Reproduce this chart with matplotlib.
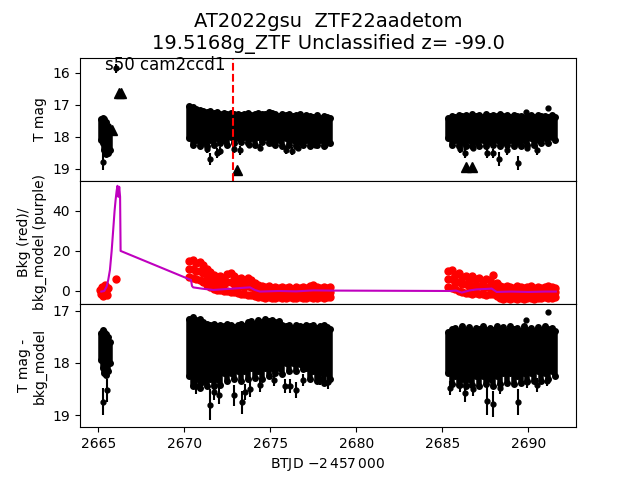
import numpy as np
import matplotlib
matplotlib.use('Agg')
import matplotlib.pyplot as plt

# --- light curve, sector 50 ---
t_early = [2665.16, 2665.26, 2665.36, 2665.46, 2665.56, 2665.66]
mag_early_hi = [17.45, 17.4, 17.45, 17.55, 17.65, 17.75]
mag_early_lo = [18.1, 18.2, 18.4, 18.55, 18.5, 18.4]
sub_early_hi = [17.42, 17.37, 17.4, 17.45, 17.5, 17.6]
sub_early_lo = [17.95, 18.1, 18.2, 18.23, 18.15, 18.0]

t_seg1 = [2670.3, 2670.5, 2670.7, 2670.9, 2671.1, 2671.3, 2671.5, 2671.7, 2671.9, 2672.1,
          2672.3, 2672.5, 2672.7, 2672.9, 2673.1, 2673.3, 2673.5, 2673.7, 2673.9, 2674.1,
          2674.3, 2674.5, 2674.7, 2674.9, 2675.1, 2675.3, 2675.5, 2675.7, 2675.9, 2676.1,
          2676.3, 2676.5, 2676.7, 2676.9, 2677.1, 2677.3, 2677.5, 2677.7, 2677.9, 2678.1,
          2678.3, 2678.5]
mag1_hi = [17.05, 17.08, 17.12, 17.15, 17.2, 17.22, 17.2, 17.25, 17.22, 17.28,
           17.25, 17.3, 17.27, 17.3, 17.28, 17.32, 17.3, 17.27, 17.33, 17.3,
           17.25, 17.28, 17.3, 17.22, 17.27, 17.3, 17.35, 17.3, 17.33, 17.3,
           17.35, 17.32, 17.3, 17.38, 17.33, 17.35, 17.38, 17.33, 17.4, 17.35,
           17.38, 17.4]
mag1_lo = [18.05, 18.25, 18.1, 18.3, 18.15, 18.3, 18.1, 18.25, 18.05, 18.2,
           18.1, 18.25, 18.0, 18.2, 18.05, 18.15, 18.0, 18.2, 18.05, 18.25,
           18.0, 18.15, 18.0, 18.2, 18.05, 18.25, 18.1, 18.3, 18.05, 18.25,
           18.1, 18.3, 18.15, 18.25, 18.1, 18.3, 18.15, 18.25, 18.1, 18.3,
           18.15, 18.2]
sub1_hi = [17.15, 17.12, 17.18, 17.15, 17.22, 17.25, 17.28, 17.25, 17.3, 17.27,
           17.3, 17.25, 17.28, 17.32, 17.27, 17.25, 17.3, 17.22, 17.2, 17.25,
           17.18, 17.22, 17.15, 17.2, 17.17, 17.22, 17.2, 17.27, 17.3, 17.28,
           17.33, 17.27, 17.3, 17.32, 17.28, 17.3, 17.27, 17.33, 17.3, 17.28,
           17.32, 17.35]
sub1_lo = [18.25, 18.45, 18.3, 18.48, 18.35, 18.45, 18.3, 18.45, 18.3, 18.42,
           18.2, 18.35, 18.2, 18.3, 18.15, 18.35, 18.15, 18.3, 18.1, 18.28,
           18.15, 18.3, 18.1, 18.25, 18.1, 18.2, 18.1, 18.22, 18.0, 18.15,
           18.0, 18.15, 18.02, 18.12, 18.1, 18.3, 18.15, 18.35, 18.2, 18.38,
           18.2, 18.3]

t_seg2 = [2685.35, 2685.55, 2685.75, 2685.95, 2686.15, 2686.35, 2686.55, 2686.75, 2686.95, 2687.15,
          2687.35, 2687.55, 2687.75, 2687.95, 2688.15, 2688.35, 2688.55, 2688.75, 2688.95, 2689.15,
          2689.35, 2689.55, 2689.75, 2689.95, 2690.15, 2690.35, 2690.55, 2690.75, 2690.95, 2691.15,
          2691.35, 2691.55]
mag2_hi = [17.4, 17.35, 17.38, 17.32, 17.36, 17.33, 17.38, 17.3, 17.35, 17.32,
           17.37, 17.3, 17.34, 17.31, 17.36, 17.3, 17.35, 17.33, 17.38, 17.32,
           17.36, 17.34, 17.4, 17.35, 17.33, 17.38, 17.32, 17.36, 17.34, 17.38,
           17.33, 17.37]
mag2_lo = [18.05, 18.25, 18.1, 18.3, 18.15, 18.3, 18.1, 18.28, 18.15, 18.3,
           18.1, 18.3, 18.15, 18.25, 18.1, 18.3, 18.15, 18.25, 18.1, 18.28,
           18.15, 18.3, 18.1, 18.25, 18.05, 18.25, 18.1, 18.2, 18.05, 18.2,
           18.0, 18.1]
sub2_hi = [17.4, 17.35, 17.33, 17.38, 17.3, 17.36, 17.32, 17.38, 17.33, 17.35,
           17.3, 17.37, 17.33, 17.36, 17.3, 17.35, 17.32, 17.38, 17.3, 17.35,
           17.33, 17.38, 17.3, 17.36, 17.33, 17.38, 17.32, 17.36, 17.3, 17.35,
           17.33, 17.38]
sub2_lo = [18.2, 18.4, 18.25, 18.42, 18.3, 18.45, 18.3, 18.42, 18.25, 18.45,
           18.25, 18.4, 18.3, 18.45, 18.25, 18.4, 18.2, 18.38, 18.2, 18.4,
           18.25, 18.38, 18.2, 18.35, 18.2, 18.35, 18.15, 18.35, 18.2, 18.3,
           18.15, 18.25]

# faint single points with larger error bars
t_out_top = [2665.27, 2666.03, 2671.33, 2671.52, 2671.91, 2672.1, 2672.87, 2673.26, 2673.74,
             2674.41, 2675.08, 2675.89, 2676.24, 2676.62, 2677.59, 2678.16,
             2686.03, 2686.32, 2686.8, 2687.58, 2687.97, 2688.31, 2688.74, 2689.42,
             2689.91, 2690.49, 2689.87, 2691.15]
mag_out_top = [18.78, 15.87, 18.38, 18.7, 18.5, 18.45, 18.38, 18.42, 18.25,
               18.34, 18.2, 18.42, 18.44, 18.34, 18.25, 18.25,
               18.38, 18.5, 18.35, 18.5, 18.52, 18.7, 18.42, 18.82,
               18.34, 18.42, 17.22, 17.1]
err_out_top = [0.27, 0.13, 0.12, 0.18, 0.15, 0.12, 0.12, 0.14, 0.1,
               0.12, 0.1, 0.12, 0.12, 0.12, 0.1, 0.1,
               0.12, 0.16, 0.11, 0.16, 0.14, 0.22, 0.14, 0.22,
               0.12, 0.14, 0.05, 0.05]

t_out_sub = [2665.26, 2665.52, 2670.66, 2670.95, 2671.52, 2671.7, 2672.0, 2672.87, 2673.35,
             2673.55, 2673.83, 2674.41, 2675.2, 2675.85, 2676.14, 2676.52, 2676.9, 2677.88,
             2678.36, 2685.45, 2686.03, 2686.32, 2686.8, 2687.58, 2687.97, 2688.35, 2689.42,
             2689.91, 2690.49, 2691.07, 2689.87, 2691.15]
mag_out_sub = [18.74, 18.52, 18.45, 18.38, 18.8, 18.55, 18.62, 18.62, 18.75,
               18.55, 18.5, 18.42, 18.33, 18.44, 18.44, 18.52, 18.33, 18.3,
               18.36, 18.48, 18.42, 18.58, 18.5, 18.72, 18.78, 18.47, 18.75,
               18.36, 18.42, 18.34, 17.17, 17.03]
err_out_sub = [0.26, 0.22, 0.15, 0.12, 0.3, 0.15, 0.16, 0.2, 0.22,
               0.15, 0.15, 0.13, 0.12, 0.14, 0.14, 0.16, 0.12, 0.12,
               0.13, 0.14, 0.13, 0.16, 0.14, 0.28, 0.25, 0.13, 0.25,
               0.12, 0.13, 0.11, 0.04, 0.04]

# ZTF upper limits
t_lim = [2665.8, 2666.22, 2666.3, 2673.05, 2686.38, 2686.73]
mag_lim = [17.78, 16.63, 16.63, 19.03, 18.94, 18.94]

# background flux and model
t_bkg_early = [2665.12, 2665.18, 2665.22, 2665.28, 2665.32, 2665.38, 2665.42, 2665.48,
               2665.52, 2665.56, 2666.03]
bkg_early = [0.5, -1.5, 2, -2.5, 1, 3, -1, 0, -2, 1.5, 6]
bkg1_hi = [15, 15.5, 14, 14.5, 13, 11, 9.5, 8, 7, 7.5,
           6.5, 8.5, 9, 7.5, 6, 6.5, 5, 6.5, 5.5, 4,
           3, 2.5, 2, 2.5, 1.5, 2, 1.5, 2, 1.5, 2,
           1, 2, 1.5, 2, 1.5, 2.5, 3, 2, 1.5, 2,
           1.5, 2]
bkg1_lo = [7, 6.5, 6, 5.5, 4.5, 3, 2, 1, 0.5, 0.5,
           0, 0, -0.5, -0.5, -1, -1.5, -1.5, -2, -2, -2.5,
           -3, -3, -3.5, -3, -3.5, -3.5, -3, -3.5, -3.5, -3,
           -3.5, -3.5, -3, -3.5, -3.5, -3, -3.5, -3.5, -3, -3.5,
           -3, -3]
bkg2_hi = [10, 10.5, 8, 9, 7, 7.5, 6, 7.5, 6, 6.5,
           5, 6, 5.5, 8, 4, 2.5, 2, 2.5, 2, 1.5,
           2.5, 2, 1.5, 2, 2.5, 1.5, 2, 1.5, 2, 2.5,
           2, 1.5]
bkg2_lo = [2, 1.5, 1, 0, -0.5, -1, -1, -1.5, -1, -1.5,
           -1.5, -2, -1.5, -1.5, -2.5, -3.5, -4, -3.5, -4, -3.5,
           -4, -3.5, -4, -3.5, -3.5, -4, -3.5, -3.5, -3, -3.5,
           -3.5, -3]

t_model = [2665.18, 2665.35, 2665.49, 2665.58, 2665.68, 2665.78, 2665.87, 2665.95, 2666.01,
           2666.07, 2666.12, 2666.17, 2666.22, 2666.27, 2666.3, 2670.39, 2670.45, 2670.52,
           2671.0, 2671.69, 2672.5, 2673.3, 2673.82, 2674.1, 2674.4, 2675.5, 2676.5, 2677.5,
           2678.47, 2685.45, 2685.8, 2686.13, 2686.6, 2687.0, 2687.5, 2687.87, 2688.16,
           2689.0, 2690.0, 2691.0, 2691.6]
bkg_model = [-0.3, 0.0, 2.2, 5.5, 10.5, 20, 30.5, 40, 45.5,
             50, 52.5, 47, 52, 47, 20, 5.5, 2.5, 1.8,
             1.2, 0.5, 1.0, 1.5, 1.8, 0.5, -0.3, 0.0, -0.2, 0.3,
             0.2, 0.0, 0.2, -0.8, 0.3, 0.8, 1.0, 1.2, -0.5,
             -0.3, -0.5, -0.3, -0.3]

t_disc = 2672.83


def draw_band(ax, t, hi, lo):
    hi = np.array(hi)
    lo = np.array(lo)
    ax.errorbar(t, (hi + lo) / 2, yerr=(lo - hi) / 2, fmt='none', ecolor='k', elinewidth=4)
    ax.plot(t, hi, 'ko', ms=4)
    ax.plot(t, lo, 'ko', ms=4)


fig, (ax1, ax2, ax3) = plt.subplots(3, 1, sharex=True, figsize=(6.4, 4.8), dpi=100)
fig.subplots_adjust(hspace=0)

# top: T mag
draw_band(ax1, t_early, mag_early_hi, mag_early_lo)
draw_band(ax1, t_seg1, mag1_hi, mag1_lo)
draw_band(ax1, t_seg2, mag2_hi, mag2_lo)
ax1.errorbar(t_out_top, mag_out_top, yerr=err_out_top, fmt='ko', ms=3.5, elinewidth=1.5)
ax1.plot(t_lim, mag_lim, 'k^', ms=7)
ax1.axvline(t_disc, color='r', ls='--', lw=1.5)
ax1.set_ylim(19.375, 15.53)
ax1.set_ylabel('T mag')
ax1.text(0.05, 0.9, 's50 cam2ccd1', transform=ax1.transAxes, fontsize=12)
ax1.set_title('AT2022gsu  ZTF22aadetom\n19.5168g_ZTF Unclassified z= -99.0', fontsize=14)

# middle: background
ax2.plot(t_bkg_early, bkg_early, 'ro', ms=5)
for t, hi, lo in [(t_seg1, bkg1_hi, bkg1_lo), (t_seg2, bkg2_hi, bkg2_lo)]:
    hi = np.array(hi)
    lo = np.array(lo)
    ax2.plot(t, hi, 'ro', ms=5)
    ax2.plot(t, (hi + lo) / 2, 'ro', ms=5)
    ax2.plot(t, lo, 'ro', ms=5)
ax2.plot(t_model, bkg_model, 'm-', lw=1.5)
ax2.set_ylim(-6.5, 55)
ax2.set_yticks([0, 20, 40])
ax2.set_ylabel('Bkg (red)/\nbkg_model (purple)')

# bottom: T mag - bkg_model
draw_band(ax3, t_early, sub_early_hi, sub_early_lo)
draw_band(ax3, t_seg1, sub1_hi, sub1_lo)
draw_band(ax3, t_seg2, sub2_hi, sub2_lo)
ax3.errorbar(t_out_sub, mag_out_sub, yerr=err_out_sub, fmt='ko', ms=3.5, elinewidth=1.5)
ax3.set_ylim(19.23, 16.87)
ax3.set_yticks([17, 18, 19])
ax3.set_ylabel('T mag -\nbkg_model')

ax3.set_xlim(2663.94, 2692.77)
ax3.set_xticks([2665, 2670, 2675, 2680, 2685, 2690])
ax3.set_xlabel('BTJD $-2\\,457\\,000$')

plt.savefig('out.png', dpi=100)
